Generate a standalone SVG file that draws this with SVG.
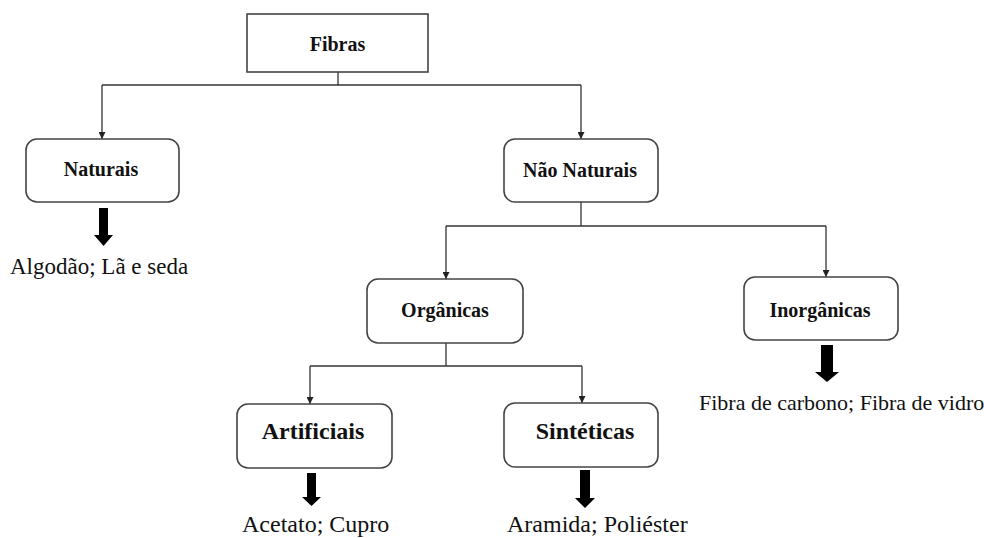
<svg xmlns="http://www.w3.org/2000/svg" width="984" height="538" viewBox="0 0 984 538">
<style>
.box{fill:#fff;stroke:#444;stroke-width:1.6}
.lbl{font-family:"Liberation Serif","Times New Roman",serif;font-weight:bold;font-size:20px;fill:#111;text-anchor:middle}
.big{font-size:24px}
.txt{font-family:"Liberation Serif","Times New Roman",serif;font-size:23px;fill:#111}
.ln{fill:none;stroke:#333;stroke-width:1.3}
.thick{fill:#000}
</style>
<defs>
<marker id="ah" viewBox="0 0 10 10" refX="10" refY="5" markerWidth="7" markerHeight="7" markerUnits="userSpaceOnUse" orient="auto">
<path d="M0,0 L10,5 L0,10 z" fill="#222"/>
</marker>
</defs>
<rect width="984" height="538" fill="#fff"/>
<g id="connectors">
<path class="ln" d="M338,72 V85"/>
<path class="ln" d="M102,85 H581"/>
<path class="ln" d="M102,85 V139" marker-end="url(#ah)"/>
<path class="ln" d="M581,85 V139" marker-end="url(#ah)"/>
<path class="ln" d="M581,202 V226"/>
<path class="ln" d="M446,226 H826"/>
<path class="ln" d="M446,226 V279" marker-end="url(#ah)"/>
<path class="ln" d="M826,226 V277" marker-end="url(#ah)"/>
<path class="ln" d="M446,343 V366"/>
<path class="ln" d="M310,366 H582"/>
<path class="ln" d="M310,366 V404" marker-end="url(#ah)"/>
<path class="ln" d="M582,366 V403" marker-end="url(#ah)"/>
<path class="thick" d="M99,208 H108 V235 H113 L103.5,246 L94,235 H99 Z"/>
<path class="thick" d="M821,345 H833 V372 H839 L827,382 L815,372 H821 Z"/>
<path class="thick" d="M307,473 H316 V497 H321 L311.5,506 L302,497 H307 Z"/>
<path class="thick" d="M580,470 H590 V498 H595 L585,508 L575,498 H580 Z"/>
</g>
<g id="fibras">
<rect class="box" x="247" y="14" width="181" height="58"/>
<text class="lbl" x="337.5" y="51">Fibras</text>
</g>
<g id="naturais">
<rect class="box" x="26" y="139" width="153" height="63" rx="11"/>
<text class="lbl" x="101" y="176">Naturais</text>
</g>
<g id="nao-naturais">
<rect class="box" x="504" y="139" width="154" height="63" rx="11"/>
<text class="lbl" x="580" y="177">Não Naturais</text>
</g>
<g id="organicas">
<rect class="box" x="367" y="279" width="156" height="64" rx="11"/>
<text class="lbl" x="445" y="317">Orgânicas</text>
</g>
<g id="inorganicas">
<rect class="box" x="744" y="277" width="154" height="63" rx="11"/>
<text class="lbl" x="820" y="317">Inorgânicas</text>
</g>
<g id="artificiais">
<rect class="box" x="237" y="404" width="155" height="64" rx="11"/>
<text class="lbl big" x="313" y="439">Artificiais</text>
</g>
<g id="sinteticas">
<rect class="box" x="504" y="403" width="154" height="64" rx="11"/>
<text class="lbl big" x="585" y="439">Sintéticas</text>
</g>
<g id="texts">
<text class="txt" x="10" y="274">Algodão; Lã e seda</text>
<text class="txt" x="699" y="410" style="font-size:22px">Fibra de carbono; Fibra de vidro</text>
<text class="txt" x="242" y="532" style="font-size:24px">Acetato; Cupro</text>
<text class="txt" x="507" y="532" style="font-size:24px">Aramida; Poliéster</text>
</g>
</svg>
